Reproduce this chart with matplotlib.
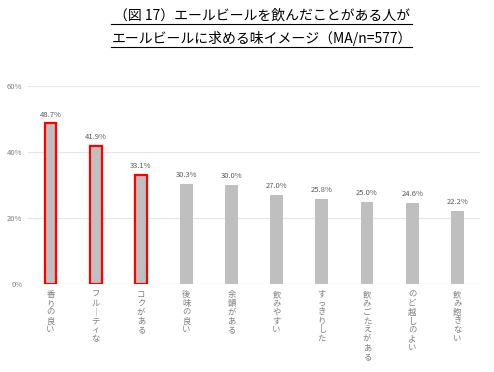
import matplotlib
matplotlib.use("Agg")
import matplotlib.pyplot as plt
import numpy as np

plt.rcParams['font.family'] = ['Noto Sans CJK JP', 'DejaVu Sans']

categories = ['香りの良い', 'フルーティな', 'コクがある', '後味の良い', '余韻がある',
              '飲みやすい', 'すっきりした', '飲みごたえがある', 'のど越しのよい', '飲み飽きない']
values = [48.7, 41.9, 33.1, 30.3, 30.0, 27.0, 25.8, 25.0, 24.6, 22.2]
highlight = [True, True, True, False, False, False, False, False, False, False]
yticks = [0, 20, 40, 60]

fig = plt.figure(figsize=(4.94, 3.72), dpi=100)
ax = fig.add_axes([28/494, (372-284)/372, (480-28)/494, (284-86)/372])

x = np.arange(len(categories))
for xi, v, h in zip(x, values, highlight):
    if h:
        ax.bar(xi, v, width=0.26, color='#bfbfbf', edgecolor='#ff0000', linewidth=1.6, zorder=3)
    else:
        ax.bar(xi, v, width=0.28, color='#bfbfbf', edgecolor='none', zorder=3)
    ax.text(xi, v + 1.4, f'{v:.1f}%', ha='center', va='bottom', fontsize=5.5, color='#595959')

ax.set_ylim(0, 60)
ax.set_xlim(-0.5, len(categories) - 0.5)
ax.set_yticks(yticks)
ax.set_yticklabels([f'{t}%' for t in yticks], fontsize=5.5, color='#7f7f7f')
ax.yaxis.grid(True, color='#e6e6e6', linewidth=0.8, zorder=0)
ax.tick_params(axis='y', length=0, pad=4)
ax.tick_params(axis='x', length=0)
for s in ax.spines.values():
    s.set_visible(False)
ax.axhline(0, color='#d9d9d9', linewidth=0.8, zorder=2)

ax.set_xticks(x)
ax.set_xticklabels([])
for xi, c in zip(x, categories):
    vert = '\n'.join('｜' if ch == 'ー' else ch for ch in c)
    ax.text(xi, -1.8, vert, ha='center', va='top', fontsize=6, color='#7f7f7f',
            linespacing=0.98)

fig.text(262/494, 1 - 16/372, '（図 17）エールビールを飲んだことがある人が',
         ha='center', va='center', fontsize=10, color='black')
fig.text(262/494, 1 - 38/372, 'エールビールに求める味イメージ（MA/n=577）',
         ha='center', va='center', fontsize=10, color='black')
for yy in [23.5, 46.5]:
    fig.add_artist(plt.Line2D([111/494, 412/494], [1 - yy/372, 1 - yy/372],
                              color='black', linewidth=0.8))

fig.savefig('out.png', dpi=100)
